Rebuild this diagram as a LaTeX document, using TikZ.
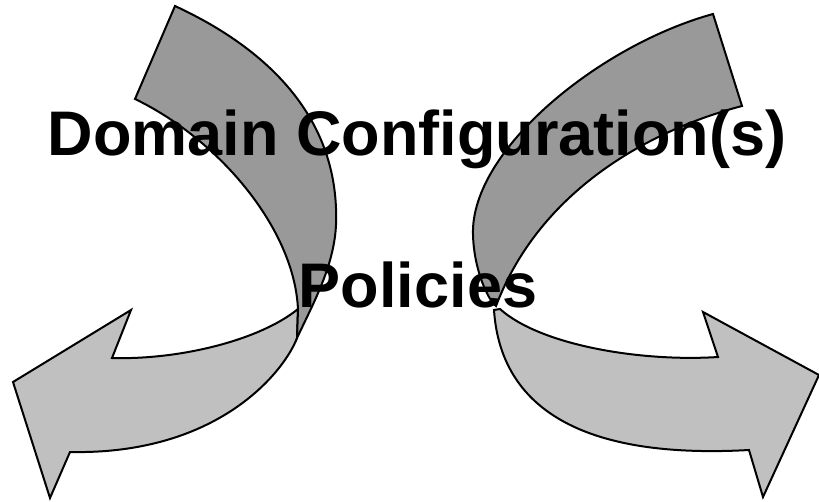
\documentclass[tikz,border=0pt]{standalone}
\usepackage{fontspec}
\setmainfont{Liberation Sans}
\begin{document}
\begin{tikzpicture}[x=1pt,y=-1pt,
  darkpart/.style={fill=darkgrey,draw=black,line width=2pt,line join=miter},
  lightpart/.style={fill=lightgrey,draw=black,line width=2pt,line join=miter},
  bigtext/.style={anchor=base,inner sep=0pt,font=\fontsize{63}{70}\selectfont\bfseries}]
\definecolor{darkgrey}{RGB}{153,153,153}
\definecolor{lightgrey}{RGB}{192,192,192}
\useasboundingbox (0,0) rectangle (819,501);
% left arrow: light front part
\path[lightpart] (298,309) .. controls (260,340) and (180,360) .. (112,358)
  -- (131,310) -- (13,382) -- (50,498) -- (70,452)
  .. controls (220,455) and (285,370) .. (297,338) -- cycle;
% left arrow: dark back part
\path[darkpart] (175,6) -- (135,99)
  .. controls (220,140) and (295,230) .. (298,310) -- (297,338)
  .. controls (315,300) and (334,265) .. (336,225)
  .. controls (340,120) and (270,50) .. (175,6) -- cycle;
% right arrow: light front part
\path[lightpart] (500,309) .. controls (540,345) and (640,362) .. (718,357)
  -- (703,312) -- (819,375) -- (763,497) -- (749,450)
  .. controls (570,460) and (500,400) .. (494,310) -- cycle;
% right arrow: dark back part
\path[darkpart] (713,14) -- (742,106)
  .. controls (650,130) and (540,190) .. (496,306)
  .. controls (488,300) and (474,270) .. (473,235)
  .. controls (470,150) and (600,45) .. (713,14) -- cycle;
\node[bigtext] (title) at (417,155) {Domain Configuration(s)};
\node[bigtext] (policies) at (418,307) {Policies};
\end{tikzpicture}
\end{document}
